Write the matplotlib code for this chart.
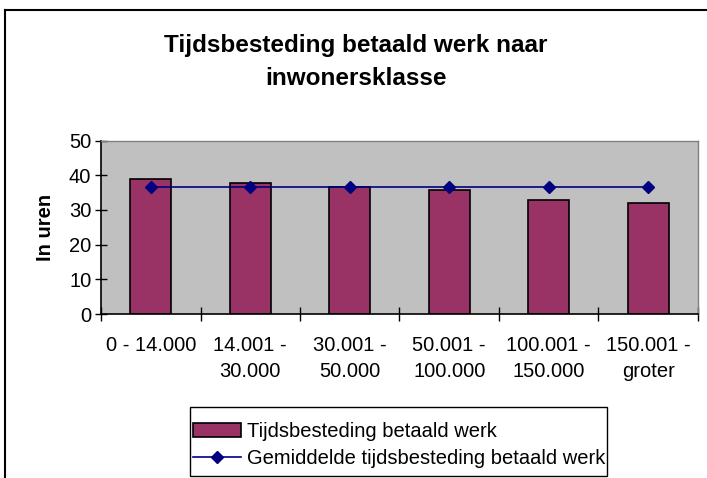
import matplotlib
matplotlib.use("Agg")
import matplotlib.pyplot as plt
from matplotlib.lines import Line2D
from matplotlib.patches import Rectangle
import numpy as np

categories = ["0 - 14.000", "14.001 -\n30.000", "30.001 -\n50.000", "50.001 -\n100.000", "100.001 -\n150.000", "150.001 -\ngroter"]
hours = [38.8, 37.8, 36.6, 35.6, 32.8, 32.1]
average = [36.5, 36.5, 36.5, 36.5, 36.5, 36.5]
yticks = [0, 10, 20, 30, 40, 50]

plt.rcParams['font.family'] = ['Liberation Sans', 'DejaVu Sans']

W, H = 707, 478
fig = plt.figure(figsize=(W / 100, H / 100), dpi=100)
fig.patch.set_facecolor('white')

def fx(px):
    return px / W

def fy(py):
    return 1 - py / H

# outer chart border (left and top visible)
fig.add_artist(Line2D([fx(5), fx(5)], [fy(10), 0], color='black', lw=1.5, transform=fig.transFigure))
fig.add_artist(Line2D([fx(5), 1], [fy(10), fy(10)], color='black', lw=1.5, transform=fig.transFigure))

left, right, top, bottom = 101, 698, 140.5, 314
ax = fig.add_axes([fx(left), fy(bottom), fx(right - left), (bottom - top) / H])
ax.set_facecolor('#C0C0C0')

x = np.arange(len(categories))
bars = ax.bar(x, hours, width=0.41, color='#993366', edgecolor='black', linewidth=1.2,
              label='Tijdsbesteding betaald werk', zorder=2)
line, = ax.plot(x, average, color='#000080', lw=1.2, marker='D', markersize=6.5,
                label='Gemiddelde tijdsbesteding betaald werk', zorder=3)

ax.set_xlim(-0.5, len(categories) - 0.5)
ax.set_ylim(0, 50)
ax.set_yticks(yticks)
ax.set_yticklabels([str(v) for v in yticks], fontsize=14.5)
ax.set_xticks(np.arange(len(categories) + 1) - 0.5)
ax.set_xticklabels([])
ax.set_xticks(x, minor=True)
ax.set_xticklabels(categories, minor=True, fontsize=14.5, linespacing=1.45)
ax.tick_params(axis='x', which='minor', length=0, pad=16)
ax.tick_params(axis='x', which='major', direction='inout', length=10, width=1, color='black')
ax.tick_params(axis='y', direction='inout', length=8, width=1, color='black', pad=3)

for s in ['top', 'right']:
    ax.spines[s].set_color('#808080')
    ax.spines[s].set_linewidth(1)
for s in ['left', 'bottom']:
    ax.spines[s].set_color('black')
    ax.spines[s].set_linewidth(1.2)

ax.set_ylabel('In uren', fontsize=14.5, fontweight='bold', labelpad=10)

fig.text(0.5 * (fx(5) + 1), fy(62), 'Tijdsbesteding betaald werk naar\ninwonersklasse',
         ha='center', va='center', fontsize=17.5, fontweight='bold', linespacing=1.6)

# legend frame
fig.add_artist(Rectangle((fx(190), fy(476)), fx(607 - 190), (476 - 407) / H,
                         transform=fig.transFigure, facecolor='white', edgecolor='black',
                         lw=1, zorder=4))
leg = fig.legend([bars, line], ['Tijdsbesteding betaald werk', 'Gemiddelde tijdsbesteding betaald werk'],
                 loc='upper left', bbox_to_anchor=(fx(193), fy(422)),
                 fontsize=14.5, frameon=False,
                 borderpad=0, handlelength=2.4, handletextpad=0.3, labelspacing=0.4,
                 borderaxespad=0)
leg.set_zorder(5)

fig.savefig('out.png', dpi=100, facecolor='white')
